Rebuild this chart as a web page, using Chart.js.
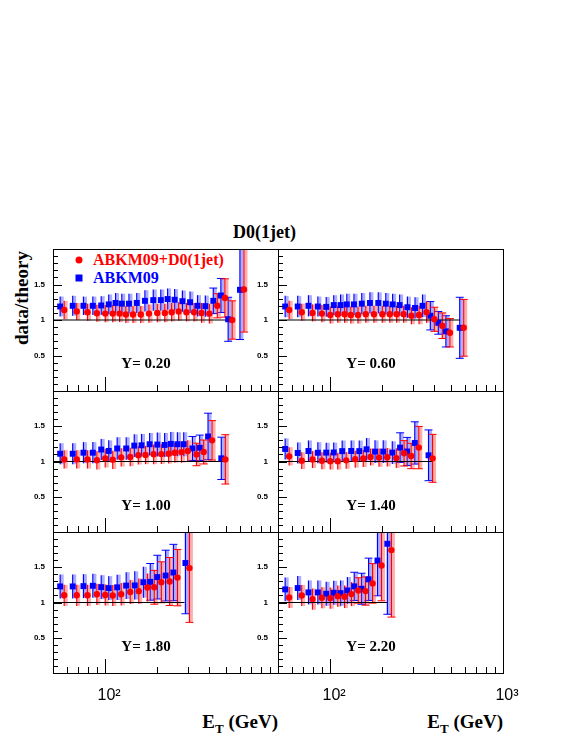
<!DOCTYPE html>
<html lang="en">
<head>
<meta charset="UTF-8">
<title>D0(1jet)</title>
<script src="https://cdn.jsdelivr.net/npm/chart.js@4.4.1/dist/chart.umd.min.js"></script>
<style>
  body { margin: 0; background: #fff; width: 572px; height: 740px; position: relative; overflow: hidden; font-family: "Liberation Serif", "DejaVu Serif", serif; }
  canvas { position: absolute; }
  .txt { position: absolute; font-weight: bold; white-space: nowrap; line-height: 1; }
  .mid { transform: translate(-50%, -50%); }
  .lft { transform: translate(0, -50%); }
  .mark { position: absolute; width: 7px; height: 7px; transform: translate(-50%, -50%); }
</style>
</head>
<body>

<div class="txt mid" style="left:264.5px;top:231.5px;font-size:18px;">D0(1jet)</div>
<div class="txt" style="left:21px;top:297.5px;font-size:19px;transform:translate(-50%,-50%) rotate(-90deg);">data/theory</div>

<span class="mark" style="left:78.5px;top:260px;background:#ff0000;border-radius:50%;"></span>
<div class="txt lft" style="left:93px;top:260px;font-size:16px;color:#ff0000;">ABKM09+D0(1jet)</div>
<span class="mark" style="left:78.5px;top:278px;background:#0000ff;"></span>
<div class="txt lft" style="left:93px;top:278px;font-size:16px;color:#0000ff;">ABKM09</div>

<div class="txt" style="right:294px;top:712px;font-size:19px;">E<span style="font-size:13px;position:relative;top:5px;">T</span> (GeV)</div>
<div class="txt" style="right:69px;top:712px;font-size:19px;">E<span style="font-size:13px;position:relative;top:5px;">T</span> (GeV)</div>

<script>
// ---- data ----
// rapidity bins
const yLabels = ['Y= 0.20', 'Y= 0.60', 'Y= 1.00', 'Y= 1.40', 'Y= 1.80', 'Y= 2.20'];

// E_T bin centres (GeV)
const etY020 = [55, 65, 75, 85, 95, 105, 115, 125, 137.5, 152.5, 170, 190, 210, 230, 252.5, 280, 310, 342.5, 380, 422.5, 467.5, 515, 602.5];
const etY060 = [55, 65, 75, 85, 95, 105, 115, 125, 137.5, 152.5, 170, 190, 210, 230, 252.5, 280, 310, 342.5, 380, 422.5, 467.5, 562];
const etY100 = [55, 65, 75, 85, 95, 105, 117.5, 132.5, 147.5, 162.5, 181, 200.5, 221, 240, 262, 285, 320, 352.5, 394, 470];
const etY140 = [55, 65, 75, 85, 95, 105, 117.5, 132.5, 147.5, 162.5, 182, 203, 229, 254, 279, 309, 371];
const etY180 = [55, 65, 75, 85, 95, 105, 117.5, 132.5, 148.5, 166.5, 182.5, 200.5, 224, 248.5, 291.5];
const etY220 = [55, 65, 75, 85, 95, 105, 115, 126, 138, 152, 167, 188, 214.5];

// ABKM09 (blue squares)
const blueY020 = [1.19, 1.20, 1.20, 1.20, 1.205, 1.22, 1.24, 1.23, 1.23, 1.24, 1.27, 1.28, 1.28, 1.295, 1.285, 1.265, 1.25, 1.20, 1.195, 1.27, 1.345, 1.01, 1.425];
const blueY060 = [1.19, 1.19, 1.20, 1.19, 1.185, 1.21, 1.21, 1.22, 1.22, 1.23, 1.24, 1.24, 1.23, 1.22, 1.21, 1.18, 1.17, 1.20, 1.06, 0.96, 0.84, 0.89];
const blueY100 = [1.11, 1.11, 1.125, 1.125, 1.17, 1.15, 1.185, 1.185, 1.225, 1.23, 1.245, 1.24, 1.235, 1.25, 1.245, 1.245, 1.185, 1.195, 1.355, 1.045];
const blueY140 = [1.178, 1.121, 1.149, 1.124, 1.126, 1.128, 1.147, 1.149, 1.147, 1.173, 1.14, 1.14, 1.126, 1.197, 1.142, 1.263, 1.088];
const blueY180 = [1.228, 1.228, 1.232, 1.237, 1.218, 1.204, 1.215, 1.24, 1.242, 1.287, 1.293, 1.36, 1.382, 1.425, 1.56];
const blueY220 = [1.186, 1.205, 1.143, 1.143, 1.124, 1.138, 1.133, 1.171, 1.229, 1.195, 1.329, 1.595, 1.833];

const blueErrY020 = [0.14, 0.14, 0.13, 0.13, 0.13, 0.14, 0.14, 0.14, 0.14, 0.14, 0.15, 0.15, 0.15, 0.15, 0.15, 0.15, 0.15, 0.15, 0.15, 0.18, 0.24, 0.31, 0.70];
const blueErrY060 = [0.15, 0.15, 0.15, 0.14, 0.14, 0.14, 0.15, 0.15, 0.15, 0.15, 0.15, 0.15, 0.15, 0.15, 0.15, 0.15, 0.15, 0.16, 0.20, 0.16, 0.22, 0.43];
const blueErrY100 = [0.15, 0.15, 0.15, 0.15, 0.15, 0.15, 0.16, 0.16, 0.16, 0.16, 0.16, 0.17, 0.17, 0.17, 0.17, 0.17, 0.17, 0.18, 0.33, 0.30];
const blueErrY140 = [0.15, 0.15, 0.15, 0.15, 0.14, 0.14, 0.15, 0.15, 0.15, 0.16, 0.16, 0.16, 0.16, 0.21, 0.20, 0.30, 0.36];
const blueErrY180 = [0.17, 0.17, 0.17, 0.17, 0.17, 0.17, 0.18, 0.19, 0.20, 0.22, 0.26, 0.31, 0.36, 0.40, 0.72];
const blueErrY220 = [0.17, 0.17, 0.17, 0.17, 0.17, 0.17, 0.18, 0.19, 0.20, 0.22, 0.30, 0.50, 1.00];

// ABKM09+D0(1jet) (red circles)
const redY020 = [1.14, 1.12, 1.11, 1.095, 1.09, 1.09, 1.09, 1.078, 1.078, 1.078, 1.09, 1.10, 1.10, 1.11, 1.12, 1.11, 1.11, 1.10, 1.09, 1.20, 1.31, 1.00, 1.43];
const redY060 = [1.14, 1.11, 1.10, 1.09, 1.07, 1.08, 1.08, 1.07, 1.07, 1.08, 1.08, 1.08, 1.08, 1.08, 1.08, 1.06, 1.07, 1.11, 1.01, 0.92, 0.82, 0.89];
const redY100 = [1.03, 1.03, 1.03, 1.017, 1.045, 1.024, 1.059, 1.064, 1.088, 1.092, 1.102, 1.105, 1.111, 1.124, 1.133, 1.15, 1.10, 1.135, 1.30, 1.03];
const redY140 = [1.073, 1.012, 1.028, 1.01, 1.005, 1.005, 1.016, 1.033, 1.042, 1.064, 1.055, 1.06, 1.048, 1.116, 1.078, 1.197, 1.045];
const redY180 = [1.102, 1.102, 1.102, 1.116, 1.106, 1.10, 1.118, 1.15, 1.161, 1.213, 1.216, 1.287, 1.298, 1.353, 1.488];
const redY220 = [1.071, 1.10, 1.048, 1.067, 1.062, 1.09, 1.081, 1.119, 1.171, 1.162, 1.271, 1.524, 1.743];

const redErrY020 = [0.13, 0.12, 0.12, 0.12, 0.12, 0.12, 0.12, 0.12, 0.12, 0.12, 0.13, 0.13, 0.13, 0.13, 0.13, 0.13, 0.13, 0.14, 0.14, 0.17, 0.27, 0.27, 0.60];
const redErrY060 = [0.13, 0.12, 0.12, 0.12, 0.12, 0.12, 0.12, 0.12, 0.12, 0.12, 0.12, 0.12, 0.12, 0.12, 0.12, 0.12, 0.13, 0.15, 0.17, 0.18, 0.20, 0.40];
const redErrY100 = [0.13, 0.13, 0.13, 0.13, 0.13, 0.13, 0.13, 0.13, 0.13, 0.13, 0.14, 0.14, 0.14, 0.14, 0.15, 0.15, 0.16, 0.17, 0.28, 0.35];
const redErrY140 = [0.13, 0.12, 0.12, 0.12, 0.12, 0.12, 0.12, 0.12, 0.12, 0.12, 0.13, 0.13, 0.14, 0.18, 0.18, 0.30, 0.34];
const redErrY180 = [0.15, 0.15, 0.15, 0.15, 0.15, 0.15, 0.16, 0.17, 0.18, 0.20, 0.24, 0.29, 0.34, 0.40, 0.77];
const redErrY220 = [0.15, 0.15, 0.15, 0.15, 0.15, 0.15, 0.16, 0.17, 0.18, 0.20, 0.28, 0.50, 0.95];

// end of the ratio = 1 reference line in each panel (GeV)
const lineEnd = [548, 563, 500, 390, 288, 214];

// ---- layout / style ----
const COL_X = [53, 278];
const ROW_Y = [249, 391, 532];
const ROW_H = [142, 141, 141];
const PANEL_W = 225;
const SHIFT = 1.055;            // red markers sit a little right of the blue ones
const capFrom = [19, 18, 16, 13, 10, 8];
const BLUE = '#0000ff', BLUE_L = 'rgba(60,60,255,0.42)';
const RED = '#ff0000', RED_L = 'rgba(255,60,60,0.42)';

const panels = [
  { et: etY020, blue: blueY020, blueErr: blueErrY020, red: redY020, redErr: redErrY020 },
  { et: etY060, blue: blueY060, blueErr: blueErrY060, red: redY060, redErr: redErrY060 },
  { et: etY100, blue: blueY100, blueErr: blueErrY100, red: redY100, redErr: redErrY100 },
  { et: etY140, blue: blueY140, blueErr: blueErrY140, red: redY140, redErr: redErrY140 },
  { et: etY180, blue: blueY180, blueErr: blueErrY180, red: redY180, redErr: redErrY180 },
  { et: etY220, blue: blueY220, blueErr: blueErrY220, red: redY220, redErr: redErrY220 }
];

// error bars: light total band plus a dark thin line, drawn under the markers
const errorBars = {
  id: 'errorBars',
  beforeDatasetsDraw(chart) {
    const { ctx, chartArea: a, scales: { y } } = chart;
    ctx.save();
    ctx.beginPath();
    ctx.rect(a.left, a.top, a.right - a.left, a.bottom - a.top);
    ctx.clip();
    chart.data.datasets.forEach((ds, i) => {
      if (!ds.errY) return;
      chart.getDatasetMeta(i).data.forEach((pt, j) => {
        const v = ds.data[j].y, e = ds.errY[j];
        const y1 = y.getPixelForValue(v + e), y2 = y.getPixelForValue(v - e);
        ctx.strokeStyle = ds.lightColor; ctx.lineWidth = 3;
        ctx.beginPath(); ctx.moveTo(pt.x + 2, y1); ctx.lineTo(pt.x + 2, y2); ctx.stroke();
        ctx.strokeStyle = ds.backgroundColor; ctx.lineWidth = 1.2;
        ctx.beginPath(); ctx.moveTo(pt.x, y1); ctx.lineTo(pt.x, y2); ctx.stroke();
        if (j >= ds.capFrom) {
          ctx.lineWidth = 1;
          ctx.beginPath();
          ctx.moveTo(pt.x - 4, y1); ctx.lineTo(pt.x + 4, y1);
          ctx.moveTo(pt.x - 4, y2); ctx.lineTo(pt.x + 4, y2);
          ctx.stroke();
        }
      });
    });
    ctx.restore();
  }
};

// frame and inward ticks, ROOT style
const frame = {
  id: 'frame',
  afterDatasetsDraw(chart) {
    const { ctx, chartArea: a, scales: { x, y } } = chart;
    ctx.save();
    ctx.strokeStyle = '#000';
    ctx.lineWidth = 1;
    ctx.strokeRect(a.left + 0.5, a.top + 0.5, a.right - a.left, a.bottom - a.top);
    ctx.beginPath();
    for (let k = 1; k < 20; k++) {
      const py = Math.round(y.getPixelForValue(k / 10)) + 0.5;
      ctx.moveTo(a.left, py); ctx.lineTo(a.left + (k % 5 === 0 ? 9 : 5), py);
    }
    [10, 100].forEach(d => {
      for (let m = 1; m <= 9; m++) {
        const v = m * d;
        if (v < 50 || v >= 1000) continue;
        const px = Math.round(x.getPixelForValue(v)) + 0.5;
        ctx.moveTo(px, a.bottom); ctx.lineTo(px, a.bottom - (v === 100 ? 14 : 6));
      }
    });
    ctx.stroke();
    ctx.restore();
  }
};

panels.forEach((p, n) => {
  const col = n % 2, row = Math.floor(n / 2);
  const bottom = row === 2;
  const cv = document.createElement('canvas');
  cv.width = 50 + PANEL_W + 20;
  cv.height = 5 + ROW_H[row] + (bottom ? 40 : 5);
  cv.style.left = (COL_X[col] - 50) + 'px';
  cv.style.top = (ROW_Y[row] - 5) + 'px';
  document.body.appendChild(cv);

  const lbl = document.createElement('div');
  lbl.className = 'txt mid';
  lbl.style.cssText = `left:${COL_X[col] + 93}px;top:${ROW_Y[row] + 113.5}px;font-size:15px;`;
  lbl.textContent = yLabels[n];
  document.body.appendChild(lbl);

  new Chart(cv, {
    type: 'scatter',
    data: {
      datasets: [
        { type: 'line', data: [{ x: 50, y: 1 }, { x: lineEnd[n], y: 1 }], borderColor: '#000', borderWidth: 1, pointRadius: 0, order: 3 },
        { data: p.et.map((x, i) => ({ x, y: p.blue[i] })), errY: p.blueErr, capFrom: capFrom[n], lightColor: BLUE_L,
          pointStyle: 'rect', pointRadius: 4.2, backgroundColor: BLUE, borderColor: BLUE, borderWidth: 0, order: 2 },
        { data: p.et.map((x, i) => ({ x: x * SHIFT, y: p.red[i] })), errY: p.redErr, capFrom: capFrom[n], lightColor: RED_L,
          pointStyle: 'circle', pointRadius: 3.2, backgroundColor: RED, borderColor: RED, borderWidth: 0, order: 1 }
      ]
    },
    options: {
      responsive: false, animation: false, events: [],
      layout: { padding: { left: 0, right: 20, top: 5, bottom: bottom ? 0 : 5 } },
      plugins: { legend: { display: false }, tooltip: { enabled: false } },
      scales: {
        x: {
          type: 'logarithmic', min: 50, max: 1000, display: bottom,
          grid: { display: false, drawTicks: false }, border: { display: false },
          ticks: {
            autoSkip: false, maxRotation: 0, padding: 13, labelOffset: 4, color: '#000',
            font: { family: 'Liberation Sans', size: 16 },
            callback: v => v === 100 ? '10²' : (v === 1000 && col === 1 ? '10³' : null)
          },
          afterFit: s => { s.height = bottom ? 40 : 0; s.paddingLeft = 0; s.paddingRight = 0; }
        },
        y: {
          min: 0, max: 2,
          grid: { display: false, drawTicks: false }, border: { display: false },
          ticks: {
            stepSize: 0.5, padding: col ? 10 : 8, color: '#000',
            font: { family: 'Liberation Sans', size: 8, weight: 'bold' },
            callback: v => (v > 0 && v < 2) ? String(v) : null
          },
          afterFit: s => { s.width = 50; s.paddingTop = 0; s.paddingBottom = 0; }
        }
      }
    },
    plugins: [errorBars, frame]
  });
});
</script>
</body>
</html>
